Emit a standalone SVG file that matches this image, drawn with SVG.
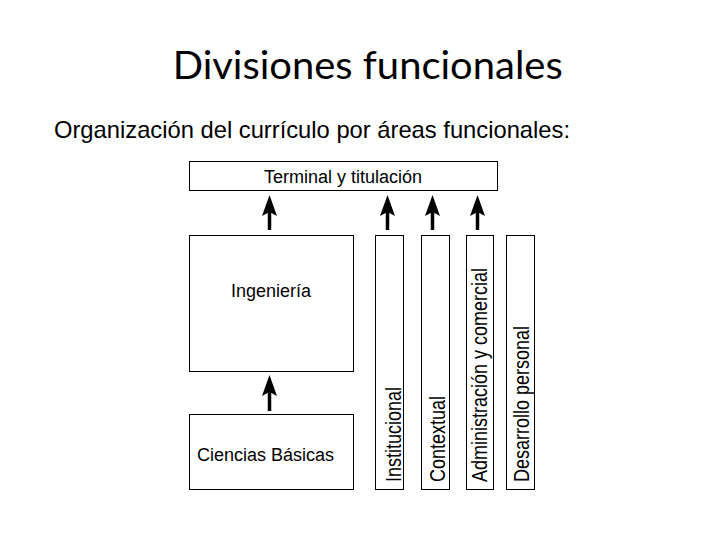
<svg xmlns="http://www.w3.org/2000/svg" width="720" height="540" viewBox="0 0 720 540">
  <style>
    .box { fill: #fff; stroke: #000; stroke-width: 1; }
    .lbl { font-family: "Liberation Sans", Arial, sans-serif; font-size: 18px; fill: #000; }
    .conn { stroke: #000; stroke-width: 3.5; fill: none; marker-end: url(#ah); }
  </style>
  <defs>
    <marker id="ah" markerUnits="userSpaceOnUse" markerWidth="22" markerHeight="16" viewBox="0 0 22 16" refX="4" refY="8" orient="auto">
      <path d="M0,0.5 L21,8 L0,15.5 L4,8 Z" fill="#000"/>
    </marker>
  </defs>
  <rect width="720" height="540" fill="#fff"/>
  <text x="172.7" y="79.3" font-family="Lato, 'Open Sans', sans-serif" font-size="39" textLength="390" lengthAdjust="spacingAndGlyphs" fill="#000">Divisiones funcionales</text>
  <text x="54" y="138" font-family="'Liberation Sans', Arial, sans-serif" font-size="24" textLength="516" lengthAdjust="spacingAndGlyphs" fill="#000">Organización del currículo por áreas funcionales:</text>

  <g id="terminal">
    <rect class="box" x="189.5" y="161.5" width="308" height="29"/>
    <text class="lbl" x="343" y="183" text-anchor="middle">Terminal y titulación</text>
  </g>
  <g id="ingenieria">
    <rect class="box" x="189.5" y="235.5" width="164" height="136"/>
    <text class="lbl" x="271" y="297" text-anchor="middle">Ingeniería</text>
  </g>
  <g id="ciencias">
    <rect class="box" x="189.5" y="414.5" width="164" height="75"/>
    <text class="lbl" x="197" y="461">Ciencias Básicas</text>
  </g>
  <g id="institucional">
    <rect class="box" x="375.5" y="235.5" width="28" height="254"/>
    <text class="lbl" transform="translate(400.5,482) rotate(-90) scale(1,1.25)">Institucional</text>
  </g>
  <g id="contextual">
    <rect class="box" x="421.5" y="235.5" width="28" height="254"/>
    <text class="lbl" transform="translate(445,482) rotate(-90) scale(1,1.25)">Contextual</text>
  </g>
  <g id="administracion">
    <rect class="box" x="466.5" y="235.5" width="27" height="254"/>
    <text class="lbl" transform="translate(487,482) rotate(-90) scale(1,1.25)">Administración y comercial</text>
  </g>
  <g id="desarrollo">
    <rect class="box" x="506.5" y="235.5" width="28" height="254"/>
    <text class="lbl" transform="translate(529,482) rotate(-90) scale(1,1.25)">Desarrollo personal</text>
  </g>

  <g id="connectors">
    <line class="conn" x1="269.5" y1="230" x2="269.5" y2="212"/>
    <line class="conn" x1="387.5" y1="230" x2="387.5" y2="212"/>
    <line class="conn" x1="432.5" y1="230" x2="432.5" y2="212"/>
    <line class="conn" x1="477.5" y1="230" x2="477.5" y2="212"/>
    <line class="conn" x1="269.5" y1="411" x2="269.5" y2="392"/>
  </g>
</svg>
